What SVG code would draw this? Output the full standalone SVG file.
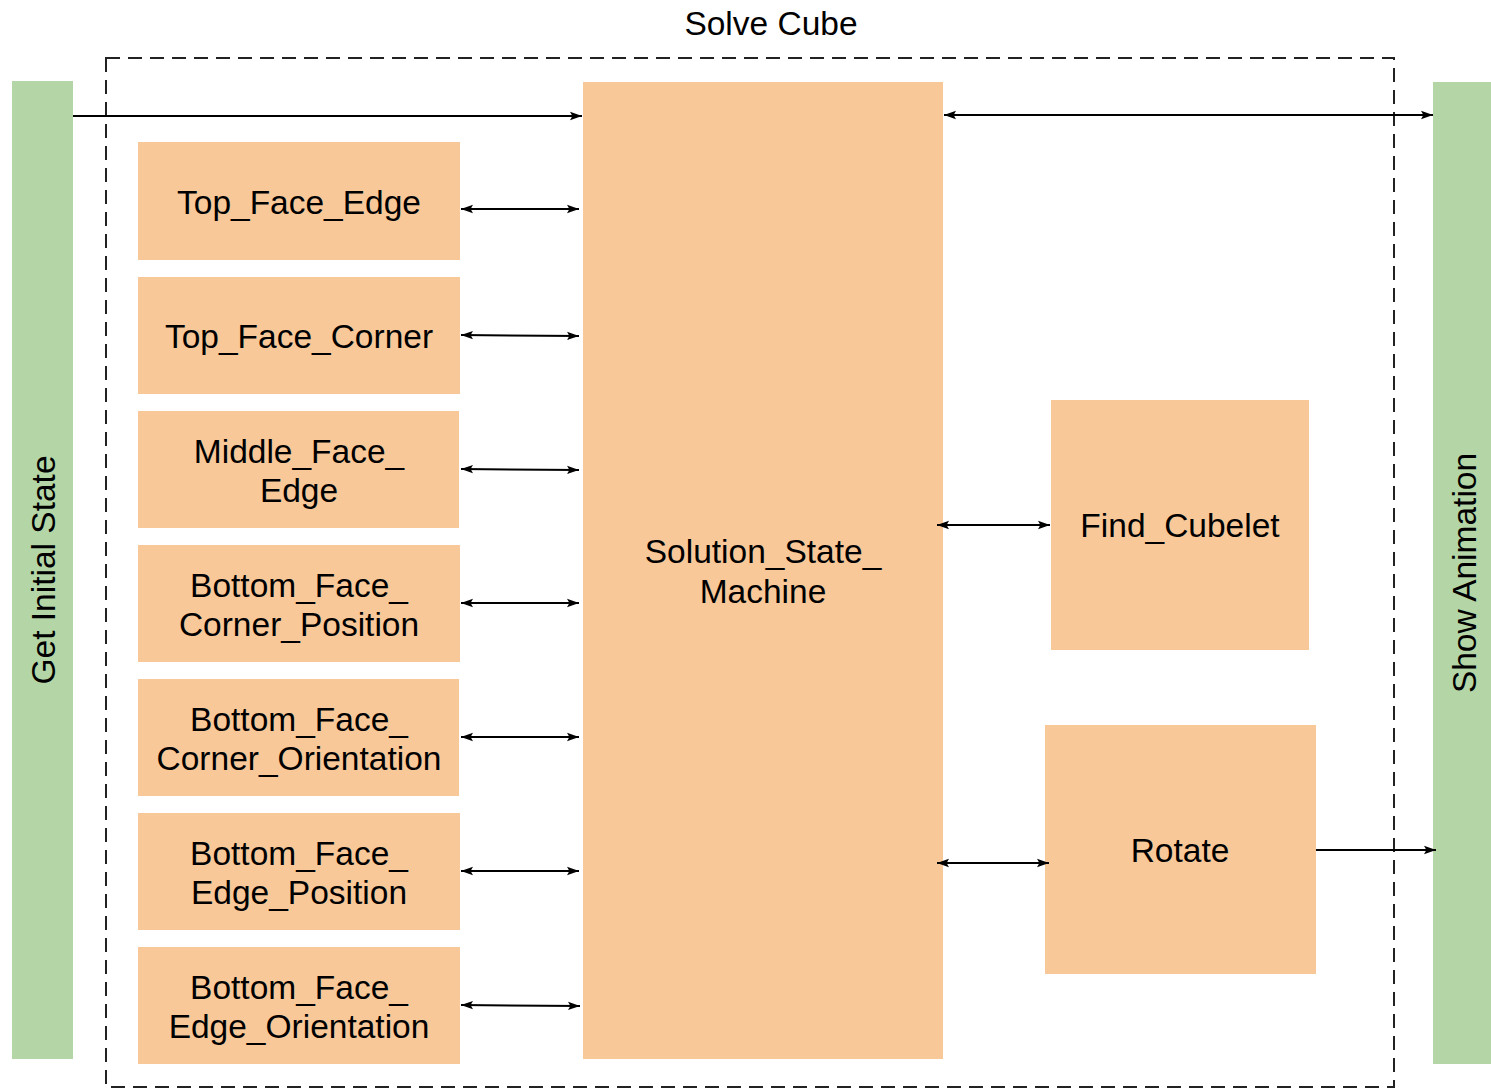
<svg xmlns="http://www.w3.org/2000/svg" width="1491" height="1089" viewBox="0 0 1491 1089">
<style>
.o{fill:#F8C899}
.g{fill:#B4D6A6}
.t{font-family:"Liberation Sans",Arial,sans-serif;font-size:33.5px;fill:#000;text-anchor:middle}
.c{stroke:#000;stroke-width:2;fill:none}
</style>
<defs>
<marker id="ahb" viewBox="0 0 10 10" refX="10" refY="5" markerWidth="12" markerHeight="12" orient="auto-start-reverse" markerUnits="userSpaceOnUse">
<path d="M0,1.5 L10,5 L0,8.5 L2,5 Z" fill="#000"/>
</marker>
</defs>
<rect width="1491" height="1089" fill="#fff"/>
<g id="container">
<rect x="106" y="58" width="1288" height="1029" fill="none" stroke="#222" stroke-width="2" stroke-dasharray="14,8"/>
<text class="t" x="771" y="35">Solve Cube</text>
</g>
<g id="get-initial-state">
<rect class="g" x="12" y="81" width="61" height="978"/>
<text class="t" transform="translate(55,570) rotate(-90)">Get Initial State</text>
</g>
<g id="show-animation">
<rect class="g" x="1433" y="82" width="58" height="982"/>
<text class="t" transform="translate(1476,573) rotate(-90)">Show Animation</text>
</g>
<g id="solution-state-machine">
<rect class="o" x="583" y="82" width="360" height="977"/>
<text class="t" x="763" y="563">Solution_State_</text>
<text class="t" x="763" y="603">Machine</text>
</g>
<g id="top-face-edge">
<rect class="o" x="138" y="142" width="322" height="118"/>
<text class="t" x="299" y="214">Top_Face_Edge</text>
</g>
<g id="top-face-corner">
<rect class="o" x="138" y="277" width="322" height="117"/>
<text class="t" x="299" y="348">Top_Face_Corner</text>
</g>
<g id="middle-face-edge">
<rect class="o" x="138" y="411" width="321" height="117"/>
<text class="t" x="299" y="463">Middle_Face_</text>
<text class="t" x="299" y="502">Edge</text>
</g>
<g id="bottom-face-corner-position">
<rect class="o" x="138" y="545" width="322" height="117"/>
<text class="t" x="299" y="597">Bottom_Face_</text>
<text class="t" x="299" y="636">Corner_Position</text>
</g>
<g id="bottom-face-corner-orientation">
<rect class="o" x="138" y="679" width="321" height="117"/>
<text class="t" x="299" y="731">Bottom_Face_</text>
<text class="t" x="299" y="770">Corner_Orientation</text>
</g>
<g id="bottom-face-edge-position">
<rect class="o" x="138" y="813" width="322" height="117"/>
<text class="t" x="299" y="865">Bottom_Face_</text>
<text class="t" x="299" y="904">Edge_Position</text>
</g>
<g id="bottom-face-edge-orientation">
<rect class="o" x="138" y="947" width="322" height="117"/>
<text class="t" x="299" y="999">Bottom_Face_</text>
<text class="t" x="299" y="1038">Edge_Orientation</text>
</g>
<g id="find-cubelet">
<rect class="o" x="1051" y="400" width="258" height="250"/>
<text class="t" x="1180" y="537">Find_Cubelet</text>
</g>
<g id="rotate">
<rect class="o" x="1045" y="725" width="271" height="249"/>
<text class="t" x="1180" y="862">Rotate</text>
</g>
<g id="connectors">
<line class="c" x1="73" y1="116" x2="582" y2="116" marker-end="url(#ahb)"/>
<line class="c" x1="944" y1="115" x2="1433" y2="115" marker-start="url(#ahb)" marker-end="url(#ahb)"/>
<line class="c" x1="461" y1="209" x2="579" y2="209" marker-start="url(#ahb)" marker-end="url(#ahb)"/>
<line class="c" x1="461" y1="335" x2="579" y2="336" marker-start="url(#ahb)" marker-end="url(#ahb)"/>
<line class="c" x1="461" y1="469" x2="579" y2="470" marker-start="url(#ahb)" marker-end="url(#ahb)"/>
<line class="c" x1="461" y1="603" x2="579" y2="603" marker-start="url(#ahb)" marker-end="url(#ahb)"/>
<line class="c" x1="461" y1="737" x2="579" y2="737" marker-start="url(#ahb)" marker-end="url(#ahb)"/>
<line class="c" x1="461" y1="871" x2="579" y2="871" marker-start="url(#ahb)" marker-end="url(#ahb)"/>
<line class="c" x1="461" y1="1005" x2="580" y2="1006" marker-start="url(#ahb)" marker-end="url(#ahb)"/>
<line class="c" x1="937" y1="525" x2="1050" y2="525" marker-start="url(#ahb)" marker-end="url(#ahb)"/>
<line class="c" x1="937" y1="863" x2="1049" y2="863" marker-start="url(#ahb)" marker-end="url(#ahb)"/>
<line class="c" x1="1316" y1="850" x2="1436" y2="850" marker-end="url(#ahb)"/>
</g>
</svg>
